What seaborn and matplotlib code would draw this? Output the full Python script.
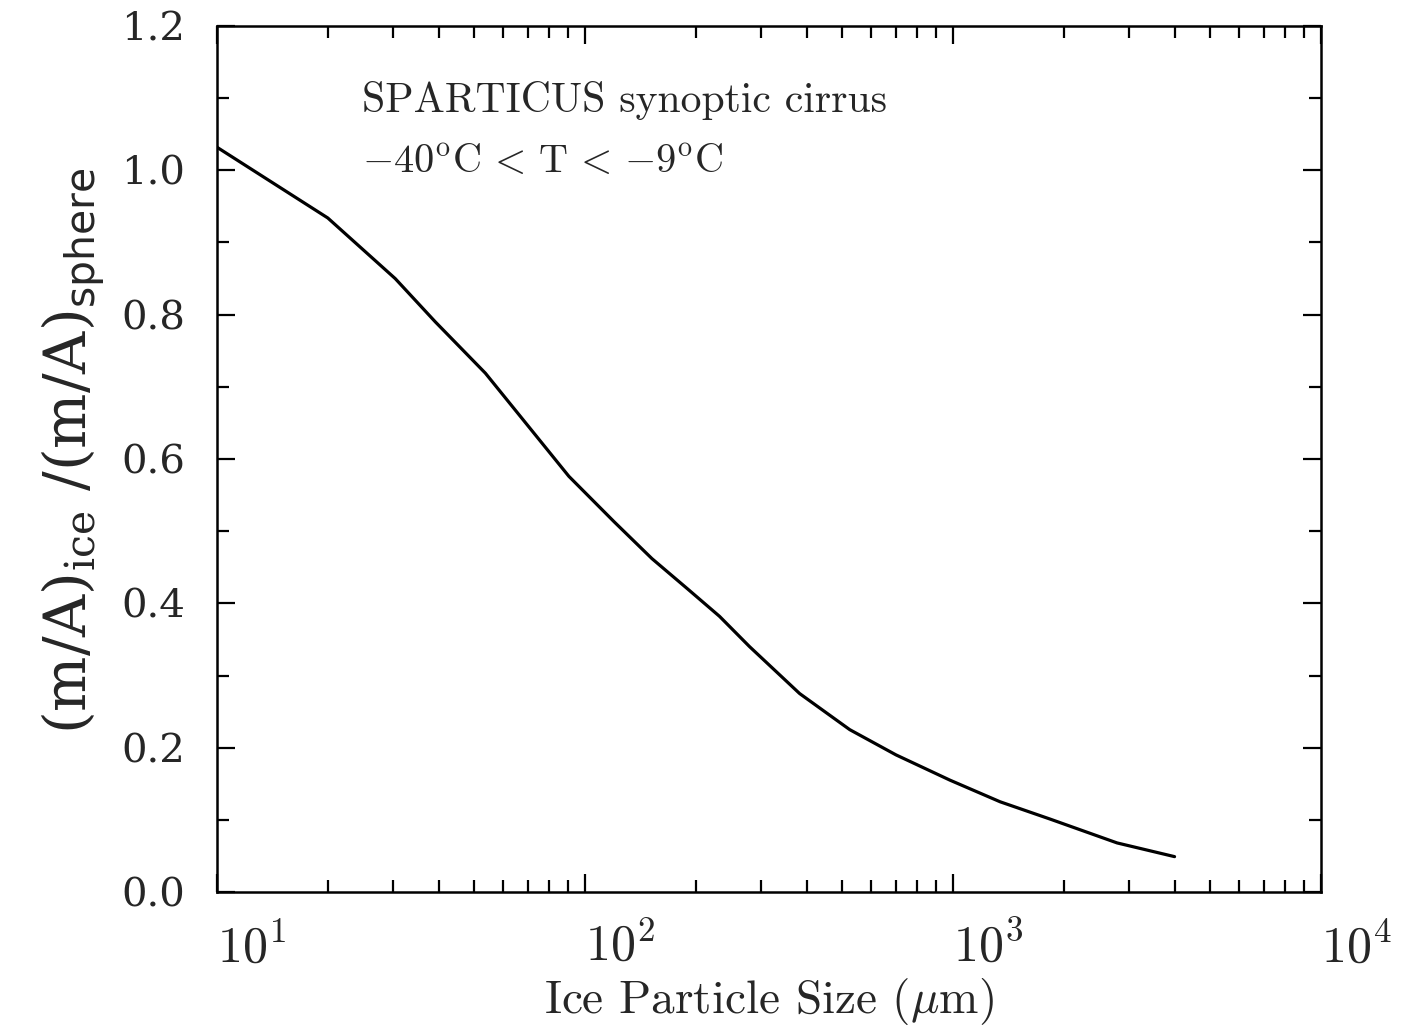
import numpy as np
import pandas as pd
import matplotlib
matplotlib.use("Agg")
import matplotlib.pyplot as plt
import seaborn as sns
from matplotlib.ticker import LogLocator, MultipleLocator, NullFormatter, FixedLocator, FixedFormatter

# ---- data ----
size_um = [10, 20, 30.5, 39.2, 53.6, 70, 90.4, 120, 152, 190, 232, 280, 383,
           524, 700, 981, 1343, 1837, 2792, 4000]
ratio = [1.032, 0.934, 0.850, 0.790, 0.719, 0.646, 0.576, 0.513, 0.462, 0.420,
         0.382, 0.340, 0.275, 0.225, 0.190, 0.155, 0.125, 0.101, 0.068, 0.049]
xtick_vals = [10, 100, 1000, 10000]
xtick_labels = [r"$10^{1}$", r"$10^{2}$", r"$10^{3}$", r"$10^{4}$"]
ytick_vals = [0.0, 0.2, 0.4, 0.6, 0.8, 1.0, 1.2]
ytick_labels = ["0.0", "0.2", "0.4", "0.6", "0.8", "1.0", "1.2"]
annot_line1 = "SPARTICUS synoptic cirrus"
annot_line2 = r"$-40^{\rm o}{\rm C}\,<\,{\rm T}\,<\,{-9}^{\rm o}{\rm C}$"
xlabel = r"Ice Particle Size ($\mu$m)"
ylabel = r"(m/A)$_{\rm ice}$ /(m/A)$_{\mathsf{sphere}}$"

df = pd.DataFrame({"size": size_um, "ratio": ratio})

sns.set_theme(style="ticks")
plt.rcParams["font.family"] = ["DejaVu Serif"]
plt.rcParams["mathtext.fontset"] = "dejavuserif"

fig = plt.figure(figsize=(14.05, 10.31), dpi=100)
ax = fig.add_axes([217 / 1405, 1 - 892 / 1031, (1321 - 217) / 1405, (892 - 26) / 1031])

sns.lineplot(data=df, x="size", y="ratio", ax=ax, color="black", linewidth=2.3,
             estimator=None, sort=False)

ax.set_xscale("log")
ax.set_xlim(10, 10000)
ax.set_ylim(0, 1.2)

ax.xaxis.set_major_locator(FixedLocator(xtick_vals))
ax.xaxis.set_major_formatter(FixedFormatter(xtick_labels))
ax.xaxis.set_minor_locator(LogLocator(base=10, subs=np.arange(2, 10)))
ax.xaxis.set_minor_formatter(NullFormatter())
ax.yaxis.set_major_locator(FixedLocator(ytick_vals))
ax.yaxis.set_major_formatter(FixedFormatter(ytick_labels))
ax.yaxis.set_minor_locator(MultipleLocator(0.1))

for s in ax.spines.values():
    s.set_linewidth(1.8)
    s.set_color("black")
    s.set_visible(True)

ax.tick_params(which="both", direction="in", top=True, right=True, color="black")
ax.tick_params(which="major", length=13, width=1.6)
ax.tick_params(which="minor", length=8.5, width=1.6)
ax.tick_params(axis="y", which="major", labelsize=29, pad=23)
ax.tick_params(axis="x", which="major", labelsize=36, pad=22)

for lab in ax.get_xticklabels():
    lab.set_horizontalalignment("left")
    lab.set_math_fontfamily("cm")

ax.set_xlabel(xlabel, fontsize=34, fontfamily="cmr10", math_fontfamily="cm")
ax.xaxis.set_label_coords(0.5, -0.097)
ax.set_ylabel(ylabel, fontsize=42)
ax.yaxis.set_label_coords(-0.1, 0.509)

ax.text(0.131, 0.9007, annot_line1, transform=ax.transAxes, fontsize=30,
        fontfamily="cmr10", va="baseline", ha="left")
ax.text(0.131, 0.831, annot_line2, transform=ax.transAxes, fontsize=29,
        math_fontfamily="cm", va="baseline", ha="left")

ax.set_facecolor("white")
fig.patch.set_facecolor("white")
fig.savefig("out.png", dpi=100)
